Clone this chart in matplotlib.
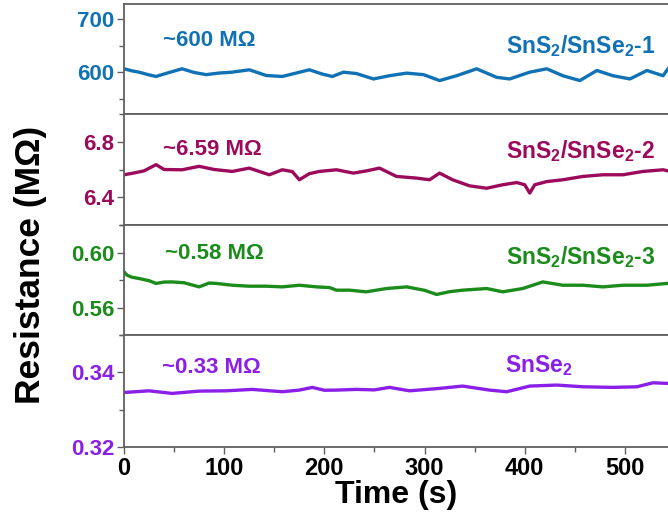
import matplotlib
matplotlib.use("Agg")
import matplotlib.pyplot as plt
from matplotlib.ticker import MultipleLocator

#fonts - Arial look-alike, bold everywhere
plt.rcParams['font.family'] = ['Liberation Sans', 'DejaVu Sans']
plt.rcParams['font.weight'] = 'bold'
plt.rcParams['mathtext.fontset'] = 'custom'
plt.rcParams['mathtext.bf'] = 'Liberation Sans:bold'
plt.rcParams['mathtext.rm'] = 'Liberation Sans:bold'

# SnS2/SnSe2-1 (MOhm)
t1 = [0, 8, 15, 24, 32, 45, 58, 70, 82, 95, 108, 125, 142, 158, 172, 185, 198, 208,
      219, 232, 249, 265, 282, 299, 315, 332, 352, 372, 385, 405, 422, 438, 455, 472,
      488, 505, 522, 538, 543]
r1 = [606.8, 603, 600.6, 596, 592.6, 600, 606.8, 600, 596, 599, 600.6, 605, 594.4,
      592.6, 599, 605, 597, 592.6, 600.6, 598, 588, 594, 598.8, 596, 585, 594, 606.8,
      591, 588, 600.6, 606.8, 594, 585, 603.7, 594, 588, 603.7, 594, 606.8]

# SnS2/SnSe2-2
t2 = [0, 10, 20, 32, 40, 58, 75, 90, 108, 125, 145, 158, 168, 175, 185, 195, 212,
      229, 242, 255, 272, 292, 305, 315, 328, 345, 362, 378, 392, 400, 405, 410, 422,
      438, 458, 478, 498, 518, 538, 543]
r2 = [6.562, 6.575, 6.59, 6.635, 6.60, 6.598, 6.623, 6.60, 6.586, 6.61, 6.562, 6.598,
      6.585, 6.526, 6.57, 6.586, 6.598, 6.574, 6.59, 6.61, 6.55, 6.538, 6.526, 6.574,
      6.526, 6.482, 6.465, 6.49, 6.506, 6.49, 6.43, 6.49, 6.513, 6.526, 6.55, 6.562,
      6.562, 6.586, 6.598, 6.59]

# SnS2/SnSe2-3
t3 = [0, 3, 8, 15, 25, 32, 40, 48, 60, 75, 85, 92, 108, 125, 142, 158, 175, 192, 205,
      212, 225, 242, 262, 282, 300, 312, 325, 338, 362, 378, 398, 418, 438, 458, 478,
      498, 522, 542]
r3 = [0.5859, 0.5835, 0.582, 0.5811, 0.5795, 0.5775, 0.5785, 0.5786, 0.578, 0.575,
      0.5778, 0.5775, 0.5762, 0.5755, 0.5755, 0.575, 0.5762, 0.575, 0.5745, 0.5726,
      0.5726, 0.5714, 0.5738, 0.575, 0.5725, 0.5695, 0.5715, 0.5726, 0.5738, 0.5714,
      0.5738, 0.5786, 0.5762, 0.5762, 0.575, 0.5762, 0.5762, 0.5775]

# SnSe2
t4 = [0, 25, 48, 75, 102, 128, 158, 175, 188, 200, 212, 232, 250, 265, 285, 315, 338,
      365, 382, 405, 432, 458, 488, 512, 528, 542]
r4 = [0.3346, 0.33505, 0.33435, 0.33497, 0.33505, 0.33543, 0.3348, 0.33524, 0.33597,
      0.3352, 0.33524, 0.33543, 0.3353, 0.33597, 0.33505, 0.3357, 0.33632, 0.33524,
      0.3348, 0.33632, 0.33659, 0.33613, 0.33597, 0.33613, 0.3372, 0.33704]

colors = ['#1072B4', '#9C0B5B', '#1B8C1B', '#8A1FE8']
values_text = ['~600 M\u03a9', '~6.59 M\u03a9', '~0.58 M\u03a9', '~0.33 M\u03a9']
sample_text = [r'SnS$_\mathbf{2}$/SnSe$_\mathbf{2}$-1', r'SnS$_\mathbf{2}$/SnSe$_\mathbf{2}$-2',
               r'SnS$_\mathbf{2}$/SnSe$_\mathbf{2}$-3', r'SnSe$_\mathbf{2}$']

ylims = [(523, 727), (6.2, 7.0), (0.54, 0.62), (0.32, 0.35)]
majors = [100, 0.4, 0.04, 0.02]
fmts = ['{:.0f}', '{:.1f}', '{:.2f}', '{:.2f}']
# text positions in axes fraction (value label, sample label)
val_pos = [(0.072, 0.67), (0.072, 0.676), (0.075, 0.745), (0.070, 0.714)]
samp_pos = [(0.976, 0.614), (0.976, 0.665), (0.976, 0.71), (0.824, 0.725)]

fig = plt.figure(figsize=(6.68, 5.29), dpi=100)
W, H = 668, 529
edges = [4, 114, 225, 335, 447]
spine_c = '#606060'

axes = []
for i, (t, r) in enumerate([(t1, r1), (t2, r2), (t3, r3), (t4, r4)]):
    top, bot = edges[i], edges[i + 1]
    ax = fig.add_axes([124 / W, 1 - bot / H, (W - 124) / W, (bot - top) / H])
    ax.plot(t, r, color=colors[i], lw=2.4)
    ax.set_xlim(0, 543)
    ax.set_ylim(*ylims[i])
    lo, hi = ylims[i]
    ax.yaxis.set_major_locator(MultipleLocator(majors[i]))
    ax.yaxis.set_minor_locator(MultipleLocator(majors[i] / 2))
    ticks = [v for v in ax.get_yticks() if lo - 1e-9 <= v <= hi + 1e-9]
    ax.set_yticks(ticks)
    ax.set_yticklabels([fmts[i].format(v) for v in ticks], color=colors[i],
                       fontsize=16, fontweight='bold')
    ax.tick_params(axis='y', which='both', direction='out', color=spine_c, width=1.0, pad=2)
    ax.tick_params(axis='y', which='major', length=5)
    ax.tick_params(axis='y', which='minor', length=3.5)
    for s in ax.spines.values():
        s.set_color(spine_c)
        s.set_linewidth(1.3)
    ax.spines['right'].set_visible(False)
    ax.text(val_pos[i][0], val_pos[i][1], values_text[i], transform=ax.transAxes,
            color=colors[i], fontsize=16, fontweight='bold', ha='left', va='center')
    ax.text(samp_pos[i][0], samp_pos[i][1], sample_text[i],
            transform=ax.transAxes, color=colors[i], fontsize=16.5, fontweight='bold',
            ha='right', va='center')
    if i < 3:
        ax.tick_params(axis='x', which='both', bottom=False, labelbottom=False)
    axes.append(ax)

ax = axes[-1]
ax.xaxis.set_major_locator(MultipleLocator(100))
ax.xaxis.set_minor_locator(MultipleLocator(50))
ax.set_xticks([0, 100, 200, 300, 400, 500])
ax.set_xticklabels(['0', '100', '200', '300', '400', '500'], fontsize=17,
                   fontweight='bold')
ax.tick_params(axis='x', which='both', direction='out', color=spine_c, width=1.0, pad=2)
ax.tick_params(axis='x', which='major', length=5)
ax.tick_params(axis='x', which='minor', length=3.5)
ax.set_xlabel('Time (s)', fontsize=23, fontweight='bold', labelpad=0)

fig.text(0.046, 0.50, 'Resistance (M\u03a9)', rotation=90, fontsize=25.5,
         fontweight='bold', ha='center', va='center')

fig.savefig('out.png', dpi=100)
